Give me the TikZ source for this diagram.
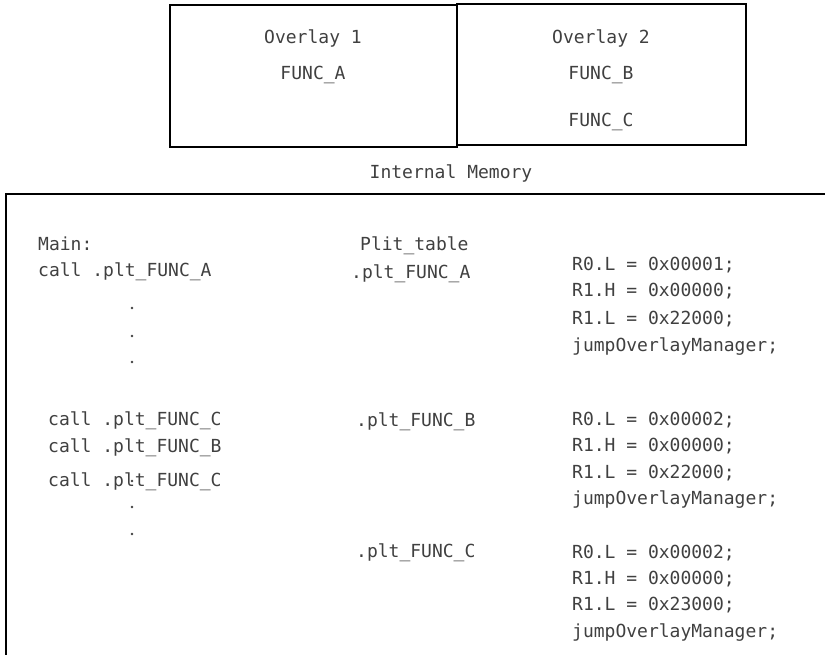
\documentclass[tikz,border=0pt]{standalone}
\usepackage{fontspec}
\newfontfamily\codefont{DejaVu Sans Mono}
\usepackage{tikz}

\begin{document}
\begin{tikzpicture}[
  x=1pt,
  y=-1pt,
  line join=miter,
  frame/.style={draw=black,line width=2.6pt},
  code/.style={font={\codefont\fontsize{18pt}{20pt}\selectfont},text=black!75,
    anchor=west,inner sep=0pt,text height=13pt,text depth=0pt},
  title/.style={code,anchor=center},
  dotmark/.style={fill=black!75}
]

  \clip (0,0) rectangle (825,655);

  % Overlay boxes in external memory
  \draw[frame] (170,5) rectangle (457,147);
  \draw[frame] (457,4) rectangle (746,145);
  \node[title] (ovone) at (313,37) {Overlay 1};
  \node[title] (funca) at (313,73) {FUNC\_A};
  \node[title] (ovtwo) at (601,37) {Overlay 2};
  \node[title] (funcb) at (601,73) {FUNC\_B};
  \node[title] (funcc) at (601,120) {FUNC\_C};

  % Internal memory, cut off at the right and bottom
  \node[title] (intmem) at (451,172) {Internal Memory};
  \draw[frame] (835,194) -- (6,194) -- (6,665);

  % Main program
  \node[code] (mainlbl) at (38,244) {Main:};
  \node[code] (calla) at (38,270) {call .plt\_FUNC\_A};
  \node[code] (callcone) at (48,419) {call .plt\_FUNC\_C};
  \node[code] (callb) at (48,446) {call .plt\_FUNC\_B};
  \node[code] (callctwo) at (48,480) {call .plt\_FUNC\_C};
  \foreach \yy in {308,336,362,481,507,534} {
    \fill[dotmark] (132,\yy) circle (1.3);
  }

  % Plt table entries
  \node[code] (plttab) at (360,244) {Plit\_table};
  \node[code] (plta) at (351,272) {.plt\_FUNC\_A};
  \node[code] (pltb) at (356,420) {.plt\_FUNC\_B};
  \node[code] (pltc) at (356,551) {.plt\_FUNC\_C};

  % Stub code for each entry
  \node[code] (aro) at (572,264) {R0.L = 0x00001;};
  \node[code] (arh) at (572,290) {R1.H = 0x00000;};
  \node[code] (arl) at (572,318) {R1.L = 0x22000;};
  \node[code] (ajump) at (572,345) {jumpOverlayManager;};

  \node[code] (bro) at (572,419) {R0.L = 0x00002;};
  \node[code] (brh) at (572,445) {R1.H = 0x00000;};
  \node[code] (brl) at (572,472) {R1.L = 0x22000;};
  \node[code] (bjump) at (572,498) {jumpOverlayManager;};

  \node[code] (cro) at (572,552) {R0.L = 0x00002;};
  \node[code] (crh) at (572,578) {R1.H = 0x00000;};
  \node[code] (crl) at (572,604) {R1.L = 0x23000;};
  \node[code] (cjump) at (572,631) {jumpOverlayManager;};

\end{tikzpicture}
\end{document}
